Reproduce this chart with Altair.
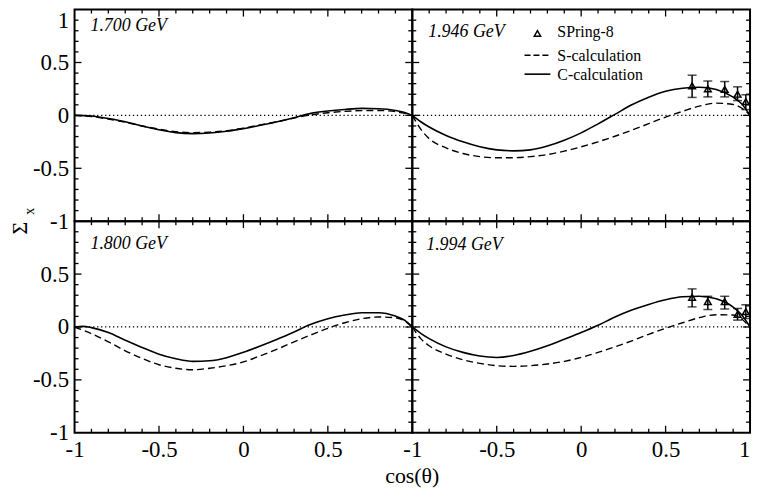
import altair as alt
import pandas as pd

# ---------------- data ----------------
x_grid = [-1.0, -0.95, -0.9, -0.8, -0.7, -0.6, -0.5, -0.4, -0.3, -0.2, -0.1, 0.0,
          0.1, 0.2, 0.3, 0.4, 0.5, 0.6, 0.7, 0.8, 0.9, 0.95, 1.0]

c_1700 = [0, -0.002, -0.006, -0.03, -0.06, -0.10, -0.135, -0.163, -0.172, -0.166, -0.15, -0.125,
          -0.094, -0.06, -0.022, 0.019, 0.041, 0.056, 0.066, 0.063, 0.047, 0.03, 0]
s_1700 = [0, -0.004, -0.01, -0.035, -0.065, -0.1, -0.13, -0.155, -0.163, -0.158, -0.145, -0.12,
          -0.09, -0.06, -0.025, 0.005, 0.025, 0.038, 0.045, 0.046, 0.035, 0.022, 0]

c_1800 = [0, 0.006, -0.006, -0.053, -0.125, -0.194, -0.257, -0.30, -0.325, -0.32, -0.29, -0.24,
          -0.18, -0.116, -0.047, 0.025, 0.078, 0.113, 0.135, 0.135, 0.103, 0.068, 0]
s_1800 = [0, -0.03, -0.063, -0.14, -0.225, -0.297, -0.357, -0.39, -0.404, -0.39, -0.366, -0.33,
          -0.272, -0.21, -0.14, -0.075, -0.013, 0.04, 0.078, 0.094, 0.088, 0.06, 0]

c_1946 = [0, -0.06, -0.11, -0.19, -0.25, -0.297, -0.326, -0.335, -0.326, -0.29, -0.235, -0.165,
          -0.08, 0.01, 0.1, 0.172, 0.228, 0.257, 0.266, 0.244, 0.172, 0.11, 0]
s_1946 = [0, -0.13, -0.22, -0.307, -0.36, -0.39, -0.40, -0.40, -0.39, -0.37, -0.338, -0.297,
          -0.25, -0.197, -0.14, -0.078, -0.016, 0.038, 0.088, 0.116, 0.103, 0.07, 0]

c_1994 = [0, -0.06, -0.11, -0.188, -0.24, -0.275, -0.288, -0.27, -0.23, -0.178, -0.116, -0.053,
          0.016, 0.094, 0.16, 0.213, 0.257, 0.285, 0.291, 0.266, 0.188, 0.115, 0]
s_1994 = [0, -0.11, -0.178, -0.257, -0.31, -0.344, -0.366, -0.372, -0.366, -0.35, -0.325, -0.288,
          -0.24, -0.188, -0.131, -0.069, -0.013, 0.04, 0.088, 0.116, 0.113, 0.075, 0]

# SPring-8 data
sp_x = [0.657, 0.75, 0.85, 0.926, 0.975]
sp_1946_y = [0.28, 0.25, 0.245, 0.20, 0.13]
sp_1946_lo = [0.17, 0.175, 0.175, 0.14, 0.055]
sp_1946_hi = [0.38, 0.325, 0.32, 0.27, 0.195]
sp_1994_y = [0.28, 0.24, 0.24, 0.12, 0.145]
sp_1994_lo = [0.19, 0.165, 0.17, 0.065, 0.08]
sp_1994_hi = [0.36, 0.29, 0.29, 0.175, 0.21]

major_ticks = [-0.5, 0.0, 0.5]
minor_ticks = [-0.9, -0.8, -0.7, -0.6, -0.4, -0.3, -0.2, -0.1, 0.1, 0.2, 0.3, 0.4, 0.6, 0.7, 0.8, 0.9]

energies = ["1.700 GeV", "1.800 GeV", "1.946 GeV", "1.994 GeV"]
legend_labels = ["SPring-8", "S-calculation", "C-calculation"]

# ---------------- layout ----------------
W, H = 340, 213
FONT = "Liberation Serif"
MAJ, MIN = 7, 4

xs = alt.Scale(domain=[-1, 1], nice=False, zero=False)
ys = alt.Scale(domain=[-1, 1], nice=False, zero=False)


def make_axis(values, orient):
    if values is None:
        return None
    kw = dict(values=values, labelExpr="'' + datum.value", title=None, domain=False,
              ticks=False, grid=False, labelFont=FONT, labelFontSize=23, labelColor="black",
              labelFlush=False, labelPadding=6)
    if orient == "left" and 1 in values:
        kw["labelBaseline"] = {"condition": {"test": "datum.value == 1", "value": "top"},
                               "value": "middle"}
    if orient == "bottom" and 1 in values:
        kw["labelAlign"] = {"condition": {"test": "datum.value == 1", "value": "right"},
                            "value": "center"}
    return alt.Axis(**kw)


def panel(c_vals, s_vals, label, lab_dx, lab_dy, xlabels=None, ylabels=None,
          pts=None, legend=False, extra=None):
    xa = make_axis(xlabels, "bottom")
    ya = make_axis(ylabels, "left")
    X = lambda f: alt.X(f, scale=xs, axis=xa)
    Y = lambda f: alt.Y(f, scale=ys, axis=ya)

    curves = pd.DataFrame({"x": x_grid, "C": c_vals, "S": s_vals})
    layers = []
    zero = alt.Chart(pd.DataFrame({"z": [0.0]})).mark_rule(
        color="black", strokeWidth=1.3, strokeDash=[1.3, 2.7]).encode(y=Y("z:Q"))
    layers.append(zero)
    layers.append(alt.Chart(curves).mark_line(color="black", strokeWidth=1.4,
                  strokeDash=[7, 4], interpolate="monotone").encode(x=X("x:Q"), y=Y("S:Q")))
    layers.append(alt.Chart(curves).mark_line(color="black", strokeWidth=1.6,
                  interpolate="monotone").encode(x=X("x:Q"), y=Y("C:Q")))

    # inward ticks on four sides
    for vals, L in ((major_ticks, MAJ), (minor_ticks, MIN)):
        td = pd.DataFrame({"v": vals})
        base = alt.Chart(td).mark_rule(color="black", strokeWidth=1.3)
        layers.append(base.encode(y=Y("v:Q"), x=alt.value(0), x2=alt.value(L)))
        layers.append(base.encode(y=Y("v:Q"), x=alt.value(W - L), x2=alt.value(W)))
        layers.append(base.encode(x=X("v:Q"), y=alt.value(H - L), y2=alt.value(H)))
        layers.append(base.encode(x=X("v:Q"), y=alt.value(0), y2=alt.value(L)))

    if pts is not None:
        pdf = pd.DataFrame({"x": sp_x, "y": pts[0], "lo": pts[1], "hi": pts[2]})
        layers.append(alt.Chart(pdf).mark_rule(color="black", strokeWidth=1.5).encode(
            x=X("x:Q"), y=Y("lo:Q"), y2="hi:Q"))
        layers.append(alt.Chart(pdf).mark_tick(color="black", orient="horizontal", size=9,
                      thickness=1.5).encode(x=X("x:Q"), y=Y("lo:Q")))
        layers.append(alt.Chart(pdf).mark_tick(color="black", orient="horizontal", size=9,
                      thickness=1.5).encode(x=X("x:Q"), y=Y("hi:Q")))
        layers.append(alt.Chart(pdf).mark_point(shape="triangle-up", filled=False,
                      color="black", size=45, strokeWidth=1.5, opacity=1).encode(
            x=X("x:Q"), y=Y("y:Q")))

    ldf = pd.DataFrame({"t": [label]})
    layers.append(alt.Chart(ldf).mark_text(font=FONT, fontSize=18, fontStyle="italic",
                  align="left", baseline="alphabetic", color="black").encode(
        x=alt.value(lab_dx), y=alt.value(lab_dy), text="t:N"))

    if legend:
        one = pd.DataFrame({"t": [0]})
        layers.append(alt.Chart(one).mark_point(shape="triangle-up", filled=False,
                      color="black", size=40, strokeWidth=1.5, opacity=1).encode(
            x=alt.value(126), y=alt.value(24)))
        layers.append(alt.Chart(one).mark_rule(color="black", strokeWidth=1.4,
                      strokeDash=[6, 3]).encode(x=alt.value(113), x2=alt.value(139),
                                                y=alt.value(46)))
        layers.append(alt.Chart(one).mark_rule(color="black", strokeWidth=1.6).encode(
            x=alt.value(113), x2=alt.value(139), y=alt.value(65)))
        for txt, yy in zip(legend_labels, (28, 51.5, 70.5)):
            layers.append(alt.Chart(pd.DataFrame({"t": [txt]})).mark_text(
                font=FONT, fontSize=16, align="left", baseline="alphabetic",
                color="black").encode(x=alt.value(146), y=alt.value(yy), text="t:N"))

    if extra:
        layers.extend(extra)

    return alt.layer(*layers).properties(width=W, height=H)


# axis titles as text
sigma = alt.Chart(pd.DataFrame({"t": ["Σ"]})).mark_text(
    font=FONT, fontSize=22, angle=270, align="center", baseline="alphabetic",
    color="black").encode(x=alt.value(-48), y=alt.value(220), text="t:N")
sub_x = alt.Chart(pd.DataFrame({"t": ["x"]})).mark_text(
    font=FONT, fontSize=14, angle=270, align="center", baseline="alphabetic",
    color="black").encode(x=alt.value(-41), y=alt.value(203), text="t:N")
xtitle = alt.Chart(pd.DataFrame({"t": ["cos(θ)"]})).mark_text(
    font=FONT, fontSize=22, align="center", baseline="alphabetic",
    color="black").encode(x=alt.value(W), y=alt.value(264), text="t:N")

tl = panel(c_1700, s_1700, energies[0], 16, 21.7, xlabels=None,
           ylabels=[-1, -0.5, 0, 0.5, 1], extra=[sigma, sub_x])
tr = panel(c_1946, s_1946, energies[2], 16, 28, legend=True,
           pts=(sp_1946_y, sp_1946_lo, sp_1946_hi))
bl = panel(c_1800, s_1800, energies[1], 16, 28.3, xlabels=[-1, -0.5, 0, 0.5],
           ylabels=[-1, -0.5, 0, 0.5], extra=[xtitle])
br = panel(c_1994, s_1994, energies[3], 14, 29.3, xlabels=[-1, -0.5, 0, 0.5, 1],
           pts=(sp_1994_y, sp_1994_lo, sp_1994_hi))

chart = alt.concat(tl, tr, bl, br, columns=2, spacing=0, bounds="flush").configure_view(
    stroke="black", strokeWidth=2).properties(
    padding={"left": 0, "top": -2, "right": 0, "bottom": 0},
    background="white",
)

chart.save("out.html", embed_options={"renderer": "svg", "actions": False})
